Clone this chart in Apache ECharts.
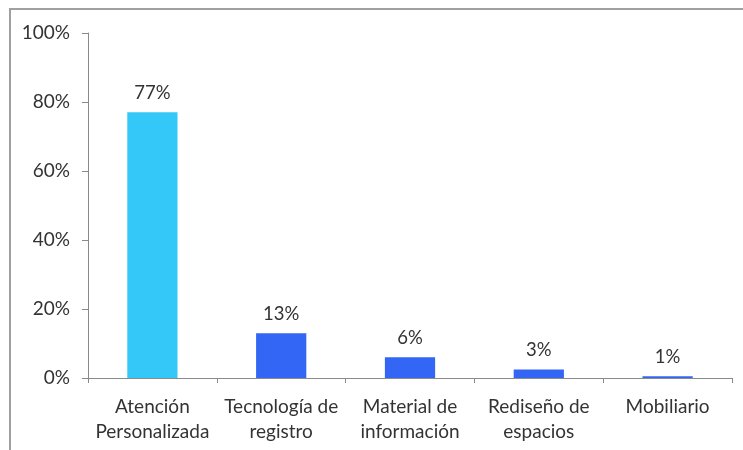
<!DOCTYPE html>
<html><head><meta charset="utf-8">
<script src="https://cdn.jsdelivr.net/npm/echarts@6/dist/echarts.min.js"></script>
<style>html,body{margin:0;padding:0;background:#fff}#c{width:743px;height:450px}</style>
</head><body><div id="c"></div>
<script>
const categories = ['Atención\nPersonalizada', 'Tecnología de\nregistro', 'Material de\ninformación', 'Rediseño de\nespacios', 'Mobiliario'];
const values = [77, 13, 6, 2.5, 0.5];
const barColors = ['#33C8F7', '#3366F5', '#3366F5', '#3366F5', '#3366F5'];
const yTicks = [0, 20, 40, 60, 80, 100];

const chart = echarts.init(document.getElementById('c'), null, {renderer: 'canvas'});
const font = 'Lato, "Open Sans", sans-serif';
chart.setOption({
  animation: false,
  backgroundColor: '#fff',
  graphic: [{
    type: 'rect', shape: {x: 10, y: 9, width: 800, height: 500},
    style: {fill: 'none', stroke: '#a0a0a0', lineWidth: 2}, silent: true, z: -1
  }],
  grid: {left: 88, right: 11, top: 33, bottom: 72},
  xAxis: {
    type: 'category', data: categories,
    axisLine: {lineStyle: {color: '#8a8a8a', width: 1}},
    axisTick: {show: true, length: 5, lineStyle: {color: '#8a8a8a'}, alignWithLabel: false},
    axisLabel: {color: '#333', fontFamily: font, fontSize: 19, lineHeight: 25, margin: 16, interval: 0}
  },
  yAxis: {
    type: 'value', min: yTicks[0], max: yTicks[yTicks.length - 1], interval: 20,
    axisLine: {show: true, lineStyle: {color: '#8a8a8a', width: 1}},
    axisTick: {show: true, length: 6, lineStyle: {color: '#8a8a8a'}},
    splitLine: {show: false},
    axisLabel: {color: '#333', fontFamily: font, fontSize: 19, margin: 18, formatter: v => v + '%'}
  },
  series: [{
    type: 'bar', barWidth: '39%',
    data: values.map((v, i) => ({value: v, itemStyle: {color: barColors[i]}})),
    label: {show: true, position: 'top', distance: 10, color: '#333', fontFamily: font, fontSize: 18.5,
      formatter: p => Math.round(p.value) + '%'}
  }]
});
</script></body></html>
